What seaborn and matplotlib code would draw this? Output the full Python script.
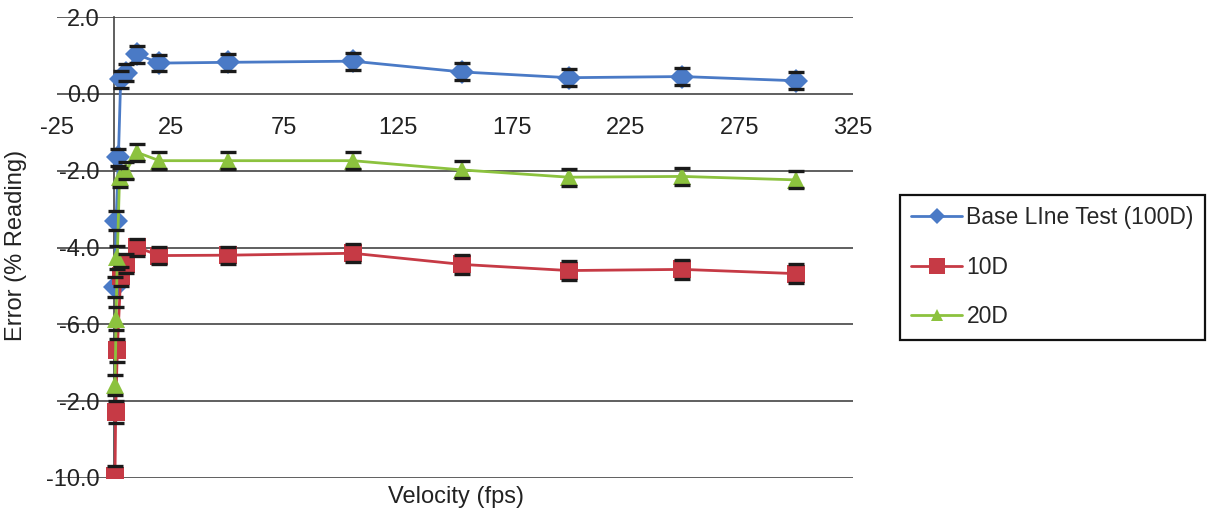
import numpy as np
import pandas as pd
import matplotlib
matplotlib.use("Agg")
import matplotlib.pyplot as plt
import seaborn as sns

# Data
base_x = [0.5, 1, 2, 3, 5.5, 10, 20, 50, 105, 153, 200, 250, 300]
base_y = [-5.03, -3.3, -1.65, 0.38, 0.55, 1.03, 0.80, 0.82, 0.85, 0.57, 0.42, 0.45, 0.34]
base_err = [0.25, 0.25, 0.22, 0.22, 0.22, 0.22, 0.2, 0.22, 0.22, 0.22, 0.22, 0.22, 0.22]

d10_x = [0.5, 0.8, 1.5, 3, 5.5, 10, 20, 50, 105, 153, 200, 250, 300]
d10_y = [-9.95, -8.28, -6.68, -4.75, -4.42, -3.99, -4.21, -4.2, -4.15, -4.44, -4.6, -4.57, -4.68]
d10_err = [0.25, 0.28, 0.3, 0.25, 0.25, 0.22, 0.22, 0.22, 0.24, 0.24, 0.24, 0.24, 0.24]

d20_x = [0.5, 1, 1.5, 2.5, 5.5, 10, 20, 50, 105, 153, 200, 250, 300]
d20_y = [-7.58, -5.85, -4.25, -2.17, -2.0, -1.52, -1.74, -1.74, -1.74, -1.98, -2.17, -2.15, -2.24]
d20_err = [0.25, 0.3, 0.3, 0.25, 0.22, 0.22, 0.22, 0.22, 0.22, 0.22, 0.22, 0.22, 0.22]

series_names = ["Base LIne Test (100D)", "10D", "20D"]
x_ticks = [-25, 25, 75, 125, 175, 225, 275, 325]
y_ticks = [2, 0, -2, -4, -6, -8, -10]
y_tick_labels = ["2.0", "0.0", "-2.0", "-4.0", "-6.0", "-2.0", "-10.0"]

sns.set_theme(style="white")
plt.rcParams['font.family'] = ['Liberation Sans', 'DejaVu Sans']

fig = plt.figure(figsize=(12.15, 5.18), dpi=100)
ax = fig.add_axes([57 / 1215, 1 - 478 / 518, (853 - 57) / 1215, (478 - 17) / 518])

styles = [
    (base_x, base_y, base_err, "#4a7ac6", "D", 12, 8),
    (d10_x, d10_y, d10_err, "#c63a45", "s", 13, 11),
    (d20_x, d20_y, d20_err, "#8cc23e", "^", 13, 9),
]

for name, (xs, ys, errs, color, marker, ms, _) in zip(series_names, styles):
    eb = ax.errorbar(xs, ys, yerr=errs, fmt="none", ecolor="#1a1a1a",
                     elinewidth=1.6, capsize=6, capthick=2.4, zorder=2)
    for cap in eb[1]:
        cap.set_zorder(4)
    df = pd.DataFrame({"x": xs, "y": ys})
    sns.lineplot(data=df, x="x", y="y", ax=ax, color=color, marker=marker,
                 markersize=ms, markeredgewidth=0, linewidth=2.0,
                 label=name, errorbar=None, zorder=3)

ax.set_xlim(-25, 325)
ax.set_ylim(-10, 2)
ax.set_xticks(x_ticks)
ax.set_xticklabels([str(v) for v in x_ticks])
ax.set_yticks(y_ticks)
ax.set_yticklabels(y_tick_labels)

ax.yaxis.grid(True, color="#444444", linewidth=1.2)
ax.xaxis.grid(False)
ax.set_axisbelow(True)

for s in ["top", "right"]:
    ax.spines[s].set_visible(False)
ax.spines["left"].set_position(("data", 0))
ax.spines["left"].set_color("#444444")
ax.spines["left"].set_linewidth(1.2)
ax.spines["bottom"].set_position(("data", 0))
ax.spines["bottom"].set_visible(False)

ax.tick_params(axis="y", length=0, pad=10, labelsize=17, labelcolor="#222222")
ax.tick_params(axis="x", length=0, pad=17, labelsize=17, labelcolor="#222222")
ax.set_xlabel("")
ax.set_ylabel("")

fig.text(16 / 1215, 1 - 245 / 518, "Error (% Reading)", rotation=90,
         ha="center", va="center", fontsize=17, color="#222222")
fig.text(456 / 1215, 1 - 497 / 518, "Velocity (fps)", ha="center",
         va="center", fontsize=17, color="#222222")

leg = ax.legend(loc="upper left", bbox_to_anchor=(900 / 1215, 1 - 195 / 518),
                bbox_transform=fig.transFigure, fontsize=16.5, frameon=True,
                fancybox=False, edgecolor="#111111", framealpha=1,
                handlelength=2.2, labelspacing=1.15, borderpad=0.5,
                handletextpad=0.2, borderaxespad=0)
leg.get_frame().set_linewidth(1.6)
for h, st in zip(leg.legend_handles, styles):
    h.set_markersize(st[6])

fig.savefig("out.png", dpi=100)
